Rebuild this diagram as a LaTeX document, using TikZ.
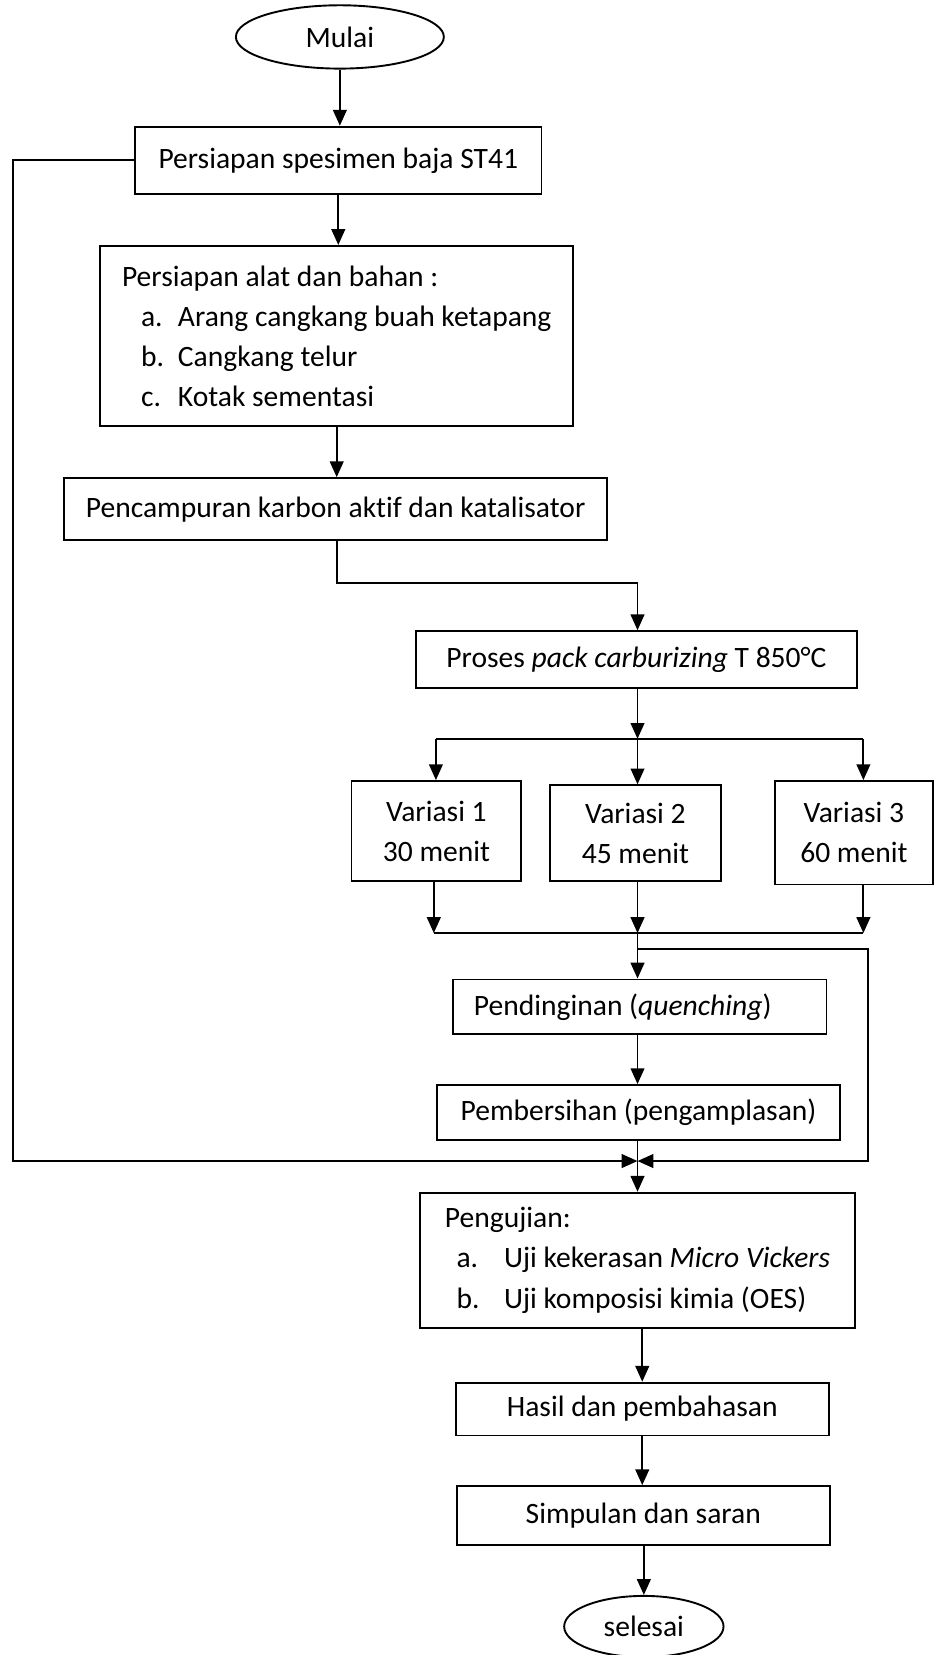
\documentclass[tikz,border=0pt]{standalone}
\usepackage{fontspec}
\setmainfont{Carlito}[Ligatures={NoCommon}]
\usetikzlibrary{arrows.meta,shapes.geometric}
\begin{document}
\begin{tikzpicture}[x=0.5pt,y=-0.5pt,
  font=\fontsize{14}{19}\selectfont,
  box/.style={draw,line width=0.9pt,rectangle,inner sep=0pt},
  oval/.style={draw,line width=0.9pt,ellipse,inner sep=0pt},
  arr/.style={line width=0.9pt,-{Triangle[length=7.5pt,width=6.5pt]}},
  ln/.style={line width=0.9pt}]
\useasboundingbox (0,0) rectangle (885,1568);
% nodes
\node[oval,minimum width=98.5pt,minimum height=30pt] (M) at (322,35) {Mulai};
\node[box,minimum width=192.5pt,minimum height=32pt] (B1) at (320.5,152) {Persiapan spesimen baja ST41};
\node[box,minimum width=224pt,minimum height=85.5pt,align=left] (B2) at (319,318.5)
  {Persiapan alat dan bahan :\\
   \hspace*{9pt}\makebox[17.5pt][l]{a.}Arang cangkang buah ketapang\\
   \hspace*{9pt}\makebox[17.5pt][l]{b.}Cangkang telur\\
   \hspace*{9pt}\makebox[17.5pt][l]{c.}Kotak sementasi};
\node[box,minimum width=257pt,minimum height=29.5pt] (B3) at (318,482.5) {Pencampuran karbon akt\kern0pt if dan katalisator};
\node[box,minimum width=209pt,minimum height=27pt] (B4) at (603,625) {Proses \textit{pack carburizing} T 850°C};
\node[box,minimum width=80.5pt,minimum height=47.5pt,align=center] (V1) at (413.5,787.5) {Variasi 1\\30 menit};
\node[box,minimum width=81pt,minimum height=45.5pt,align=center] (V2) at (602,789.5) {Variasi 2\\45 menit};
\node[box,minimum width=75pt,minimum height=49pt,align=center] (V3) at (809,789) {Variasi 3\\60 menit};
\node[box,minimum width=177pt,minimum height=26pt] (Pd) at (606,954) {Pendinginan (\textit{quenching})\hspace*{16pt}};
\node[box,minimum width=191pt,minimum height=26pt] (Pb) at (605,1054) {Pembersihan (pengamplasan)};
\node[box,minimum width=206pt,minimum height=64pt,align=left] (Pg) at (604,1194)
  {Pengujian:\\
   \hspace*{5.5pt}\makebox[22.5pt][l]{a.}Uji kekerasan \textit{Micro Vickers}\\
   \hspace*{5.5pt}\makebox[22.5pt][l]{b.}Uji komposisi kimia (OES)};
\node[box,minimum width=176.5pt,minimum height=25pt] (H) at (608.5,1335) {Hasil dan pembahasan};
\node[box,minimum width=176.5pt,minimum height=28pt] (S) at (609.5,1436) {Simpulan dan saran};
\node[oval,minimum width=75.5pt,minimum height=29pt] (E) at (610,1541) {selesai};
% coordinates
\coordinate (c1) at (319,552);
\coordinate (c2) at (604,552);
\coordinate (b1) at (413,700);
\coordinate (b2) at (604,700);
\coordinate (b3) at (818,700);
\coordinate (m1) at (411,884);
\coordinate (m2) at (604,884);
\coordinate (m3) at (818,884);
\coordinate (s1) at (604,899);
\coordinate (J) at (604,1100);
% connectors
\draw[arr] (M.south) -- (M.south |- B1.north);
\draw[arr] (B1.south) -- (B1.south |- B2.north);
\draw[arr] (B2.south) -- (B2.south |- B3.north);
\draw[arr] (B3.south -| c1) -- (c1) -- (c2) -- (c2 |- B4.north);
\draw[arr] (B4.south -| b2) -- (b2);
\draw[ln] (b1) -- (b3);
\draw[arr] (b1) -- (b1 |- V1.north);
\draw[arr] (b2) -- (b2 |- V2.north);
\draw[arr] (b3) -- (b3 |- V3.north);
\draw[arr] (V1.south -| m1) -- (m1);
\draw[arr] (V2.south -| m2) -- (m2);
\draw[arr] (V3.south -| m3) -- (m3);
\draw[ln] (m1) -- (m3);
\draw[arr] (m2) -- (m2 |- Pd.north);
\draw[arr] (Pd.south -| m2) -- (m2 |- Pb.north);
\draw[arr] (Pb.south -| J) -- (J |- Pg.north);
\draw[arr] (B1.west) -| (12,1100) -- (J);
\draw[arr] (s1) -| (822,1100) -- (J);
\draw[arr] (H.north |- Pg.south) -- (H.north);
\draw[arr] (H.south) -- (H.south |- S.north);
\draw[arr] (E.north |- S.south) -- (E.north);
\end{tikzpicture}
\end{document}
